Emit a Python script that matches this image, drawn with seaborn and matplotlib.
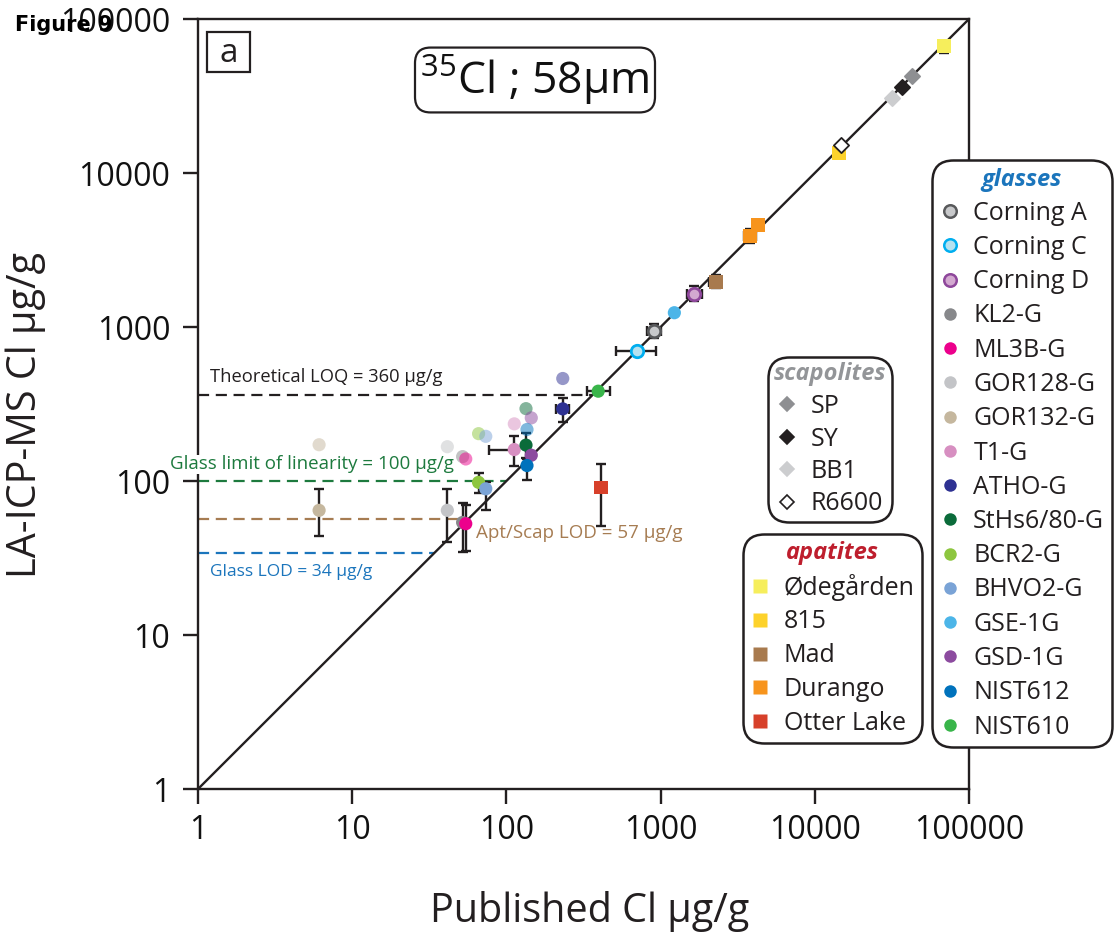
import numpy as np
import pandas as pd
import matplotlib
matplotlib.use("Agg")
import matplotlib.pyplot as plt
import seaborn as sns
from matplotlib.lines import Line2D
from matplotlib.patches import Rectangle
from matplotlib.ticker import FixedLocator, FixedFormatter, NullLocator

# ---------------- data ----------------
glass_names = ['Corning A', 'Corning C', 'Corning D', 'KL2-G', 'ML3B-G', 'GOR128-G', 'GOR132-G',
               'T1-G', 'ATHO-G', 'StHs6/80-G', 'BCR2-G', 'BHVO2-G', 'GSE-1G', 'GSD-1G',
               'NIST612', 'NIST610']
glass_pub = [906, 700, 1655, 52, 54.5, 41.4, 6.1, 112.5, 232, 134, 66, 73.5, 1228, 145, 136, 394]
glass_pub_lo = [820, 514, 1480, 52, 54.5, 41.4, 6.1, 77, 210, 134, 66, 73.5, 1228, 145, 136, 333]
glass_pub_hi = [1000, 933, 1850, 52, 54.5, 41.4, 6.1, 112.5, 254, 134, 66, 73.5, 1228, 145, 136, 470]
glass_meas = [940, 697, 1645, 53.8, 52.8, 64.5, 64.5, 160, 294, 171, 98, 89, 1238, 147, 126, 383]
glass_meas_lo = [850, 660, 1470, 34.6, 34.9, 40, 44, 126, 240, 140, 84, 65, 1238, 147, 101, 383]
glass_meas_hi = [1040, 735, 1840, 72, 69.5, 89, 89, 197, 344, 205, 113, 98, 1238, 147, 138, 383]
# second (faded) measurement set
glass_meas_alt = [np.nan, np.nan, np.nan, 144, 139, 167, 172, 235, 463, 295, 203, 195, np.nan, 257, 216, np.nan]
glass_face = ['#c8c9cb', '#b6e2f0', '#d3a9d0', '#87888b', '#ec008c', '#c3c4c7', '#c5b79e',
              '#d78fc1', '#2e3192', '#0b6b3a', '#8dc63f', '#7aa3d6', '#4cb5e8', '#8c4b9f',
              '#0072bc', '#39b54a']
glass_edge = ['#58595b', '#00aeef', '#8e479b'] + [None] * 13

apatite_names = ['Ødegården', '815', 'Mad', 'Durango', 'Otter Lake']
apatite_colors = ['#f6ee5c', '#fdd22b', '#a87a4e', '#f7941d', '#d7402a']
apatite_sample = ['Ødegården', '815', 'Mad', 'Durango', 'Durango', 'Otter Lake']
apatite_pub = [68800, 14300, 2275, 4285, 3800, 410]
apatite_pub_lo = [68800, 14300, 2060, 4285, 3450, 410]
apatite_pub_hi = [68800, 14300, 2275, 4285, 4150, 410]
apatite_meas = [67000, 13400, 1960, 4600, 3900, 90.7]
apatite_meas_lo = [59800, 13400, 1780, 4600, 3500, 51]
apatite_meas_hi = [67000, 13400, 2160, 4600, 4300, 129]

scap_names = ['SP', 'SY', 'BB1', 'R6600']
scap_face = ['#8e8f92', '#231f20', '#cccdcf', '#ffffff']
scap_edge = ['#8e8f92', '#231f20', '#cccdcf', '#231f20']
scap_pub = [42500, 36600, 31800, 14700]
scap_meas = [42400, 36000, 30600, 15300]

ref_levels = [360, 100, 57, 34]
ref_labels = ['Theoretical LOQ = 360 µg/g', 'Glass limit of linearity = 100 µg/g',
              'Apt/Scap LOD = 57 µg/g', 'Glass LOD = 34 µg/g']
ref_colors = ['#231f20', '#1d7a3e', '#a67c52', '#1b75bc']

axis_ticks = [1, 10, 100, 1000, 10000, 100000]
axis_ticklabels = ['1', '10', '100', '1000', '10000', '100000']

# ---------------- style ----------------
sns.set_theme(style='white')
plt.rcParams['font.family'] = ['Open Sans', 'DejaVu Sans']
plt.rcParams['mathtext.fontset'] = 'custom'
plt.rcParams['mathtext.rm'] = 'Open Sans'
plt.rcParams['mathtext.it'] = 'Open Sans:italic'
plt.rcParams['mathtext.bf'] = 'Open Sans:bold'
INK = '#231f20'

W, H = 1117, 934
fig = plt.figure(figsize=(W / 100, H / 100), dpi=100)
ax = fig.add_axes([198 / W, 1 - 789 / H, (969 - 198) / W, (789 - 19) / H])
ax.set_xscale('log')
ax.set_yscale('log')
ax.set_xlim(axis_ticks[0], axis_ticks[-1])
ax.set_ylim(axis_ticks[0], axis_ticks[-1])

# 1:1 line
sns.lineplot(x=[axis_ticks[0], axis_ticks[-1]], y=[axis_ticks[0], axis_ticks[-1]],
             color=INK, lw=1.7, ax=ax, zorder=2)

# reference dashed lines + labels
for lvl, col in zip(ref_levels, ref_colors):
    ax.hlines(lvl, axis_ticks[0], lvl, colors=col, linestyles=(0, (5, 3)), lw=1.6, zorder=1)

label_pos = [(1.2, 470), (0.66, 128), (63.5, 46.2), (1.2, 25.8)]
label_size = [13.2, 13.5, 13.5, 12.5]
for (lx, ly), txt, col, fs in zip(label_pos, ref_labels, ref_colors, label_size):
    ax.text(lx, ly, txt, color=col, fontsize=fs, ha='left', va='center',
            clip_on=False, zorder=10,
            bbox=dict(boxstyle='square,pad=0.05', fc='white', ec='none') if col == '#1d7a3e' else None)


def draw_err(x, y, xlo, xhi, ylo, yhi):
    xerr = None if (xlo == x and xhi == x) else [[x - xlo], [xhi - x]]
    yerr = None if (ylo == y and yhi == y) else [[y - ylo], [yhi - y]]
    if xerr is None and yerr is None:
        return
    ax.errorbar([x], [y], xerr=xerr, yerr=yerr, fmt='none', ecolor=INK, elinewidth=1.7,
                capsize=3.8, capthick=1.7, zorder=3)


# glasses
gdf = pd.DataFrame({'sample': glass_names, 'pub': glass_pub, 'meas': glass_meas,
                    'alt': glass_meas_alt})
for i, row in gdf.iterrows():
    draw_err(glass_pub[i], glass_meas[i], glass_pub_lo[i], glass_pub_hi[i],
             glass_meas_lo[i], glass_meas_hi[i])
    if not np.isnan(row['alt']):
        sns.scatterplot(x=[row['pub']], y=[row['alt']], color=glass_face[i], s=90,
                        edgecolor='none', alpha=0.5, ax=ax, zorder=4, legend=False)
for i, row in gdf.iterrows():
    ec = glass_edge[i]
    sns.scatterplot(x=[row['pub']], y=[row['meas']], color=glass_face[i], s=90 if ec is None else 80,
                    edgecolor=ec if ec else 'none', linewidth=2 if ec else 0,
                    ax=ax, zorder=5, legend=False)

# apatites
apal = dict(zip(apatite_names, apatite_colors))
for i in range(len(apatite_sample)):
    draw_err(apatite_pub[i], apatite_meas[i], apatite_pub_lo[i], apatite_pub_hi[i],
             apatite_meas_lo[i], apatite_meas_hi[i])
adf = pd.DataFrame({'sample': apatite_sample, 'pub': apatite_pub, 'meas': apatite_meas})
sns.scatterplot(data=adf, x='pub', y='meas', hue='sample', palette=apal, marker='s', s=100,
                edgecolor='none', linewidth=0, ax=ax, zorder=5, legend=False)

# scapolites
for i in range(len(scap_names)):
    sns.scatterplot(x=[scap_pub[i]], y=[scap_meas[i]], color=scap_face[i], marker='D', s=60,
                    edgecolor=scap_edge[i], linewidth=1.3, ax=ax, zorder=5, legend=False)

# axes styling
for sp in ax.spines.values():
    sp.set_visible(True)
    sp.set_color(INK)
    sp.set_linewidth(1.7)
for axis in (ax.xaxis, ax.yaxis):
    axis.set_major_locator(FixedLocator(axis_ticks))
    axis.set_major_formatter(FixedFormatter(axis_ticklabels))
    axis.set_minor_locator(NullLocator())
ax.tick_params(axis='both', which='major', bottom=True, left=True, direction='out',
               length=11, width=1.7, color=INK, labelsize=23, labelcolor='#111111')
ax.tick_params(axis='x', pad=7)
ax.tick_params(axis='y', pad=9)
ax.set_xlabel('')
ax.set_ylabel('')
ax.grid(False)

fig.text(590 / W, 1 - 922 / H, 'Published Cl µg/g', fontsize=28.5, color=INK, ha='center', va='baseline')
fig.text(26 / W, 1 - 415 / H, 'LA-ICP-MS Cl µg/g', fontsize=28.5, color=INK, ha='center', va='center',
         rotation=90)

# title box and panel letter
fig.text(535 / W, 1 - 80 / H, r'$^{35}$Cl ; 58µm', fontsize=32, color='#111111', ha='center',
         va='center', bbox=dict(boxstyle='round,pad=0.12,rounding_size=0.35', fc='white', ec=INK, lw=1.6))
fig.add_artist(Rectangle((207 / W, 1 - 72 / H), 43 / W, 40 / H, transform=fig.transFigure,
                         fc='white', ec=INK, lw=1.6, zorder=5))
fig.text(228.5 / W, 1 - 53 / H, 'a', fontsize=24, color=INK, ha='center', va='center', zorder=6)
fig.text(15 / W, 1 - 25 / H, 'Figure 9', fontsize=15, fontweight='bold', family='DejaVu Sans',
         color='black', ha='left', va='center')

# legends


def make_legend(handles, labels, title, tcolor, x_px, y_px, spacing=0.37, bpad=0.3):
    leg = fig.legend(handles, labels, title=title, loc='upper left',
                     bbox_to_anchor=(x_px / W, 1 - y_px / H), borderaxespad=0,
                     frameon=True, fancybox=True, fontsize=18, title_fontsize=17,
                     labelspacing=spacing, handlelength=0.8, handletextpad=0.55,
                     borderpad=bpad, framealpha=1, edgecolor=INK)
    leg.get_frame().set_linewidth(1.8)
    leg.legendPatch.set_boxstyle('round,pad=0,rounding_size=0.85')
    t = leg.get_title()
    t.set_color(tcolor)
    t.set_fontstyle('italic')
    t.set_fontweight('bold')
    for txt in leg.get_texts():
        txt.set_color(INK)
    return leg


gh = []
for i in range(len(glass_names)):
    ec = glass_edge[i] if glass_edge[i] else glass_face[i]
    gh.append(Line2D([], [], ls='', marker='o', ms=9, mfc=glass_face[i], mec=ec,
                     mew=1.8 if glass_edge[i] else 0))
make_legend(gh, glass_names, 'glasses', '#1b75bc', 932, 160)

sh = [Line2D([], [], ls='', marker='D', ms=7, mfc=scap_face[i], mec=scap_edge[i], mew=1.2)
      for i in range(len(scap_names))]
make_legend(sh, scap_names, 'scapolites', '#939598', 768, 357, spacing=0.3, bpad=0.22)

ah = [Line2D([], [], ls='', marker='s', ms=9.5, mfc=apatite_colors[i], mec='none')
      for i in range(len(apatite_names))]
make_legend(ah, apatite_names, 'apatites', '#be1e2d', 743, 534, spacing=0.35, bpad=0.28)

fig.savefig('out.png', dpi=100, facecolor='white')
